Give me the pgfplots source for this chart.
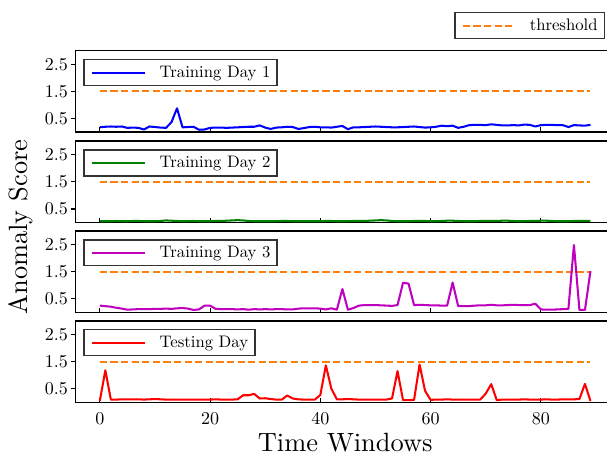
\documentclass[border=0pt]{standalone}
\usepackage{fontspec}
\setmainfont{lmroman10-regular.otf}
\usepackage{pgfplots}
\usepackage{pgfplotstable}
\pgfplotsset{compat=1.18}
\definecolor{thrcolor}{rgb}{1,0.498,0.055}
\definecolor{mpgreen}{rgb}{0,0.5,0}
\definecolor{mpmag}{rgb}{0.75,0,0.75}

\pgfplotstableread{
x b g m r
0 0.18 0.05 0.25 0.05
1 0.20 0.05 0.23 1.18
2 0.21 0.05 0.21 0.10
3 0.20 0.06 0.17 0.10
4 0.21 0.05 0.14 0.11
5 0.16 0.05 0.10 0.11
6 0.17 0.06 0.11 0.11
7 0.16 0.06 0.12 0.11
8 0.10 0.05 0.12 0.10
9 0.21 0.05 0.12 0.11
10 0.19 0.05 0.13 0.12
11 0.17 0.06 0.13 0.11
12 0.16 0.08 0.14 0.10
13 0.37 0.07 0.13 0.10
14 0.88 0.06 0.15 0.10
15 0.18 0.05 0.16 0.10
16 0.19 0.05 0.14 0.10
17 0.20 0.06 0.09 0.10
18 0.09 0.05 0.11 0.10
19 0.10 0.05 0.25 0.10
20 0.16 0.05 0.25 0.10
21 0.17 0.06 0.13 0.11
22 0.17 0.06 0.12 0.10
23 0.16 0.07 0.12 0.10
24 0.17 0.08 0.12 0.10
25 0.18 0.09 0.11 0.11
26 0.19 0.08 0.12 0.26
27 0.20 0.06 0.10 0.26
28 0.20 0.05 0.12 0.31
29 0.25 0.05 0.11 0.14
30 0.17 0.05 0.12 0.15
31 0.12 0.05 0.11 0.12
32 0.17 0.05 0.12 0.10
33 0.18 0.06 0.12 0.10
34 0.20 0.06 0.11 0.25
35 0.19 0.05 0.11 0.14
36 0.12 0.05 0.14 0.11
37 0.15 0.05 0.15 0.10
38 0.19 0.05 0.15 0.10
39 0.20 0.05 0.15 0.10
40 0.18 0.05 0.14 0.27
41 0.18 0.06 0.11 1.36
42 0.17 0.06 0.15 0.50
43 0.20 0.05 0.10 0.11
44 0.23 0.05 0.86 0.11
45 0.11 0.05 0.10 0.12
46 0.18 0.06 0.16 0.11
47 0.18 0.06 0.25 0.10
48 0.19 0.06 0.27 0.10
49 0.20 0.07 0.27 0.10
50 0.21 0.08 0.27 0.10
51 0.20 0.09 0.26 0.10
52 0.19 0.08 0.25 0.10
53 0.18 0.06 0.24 0.14
54 0.18 0.05 0.27 1.15
55 0.19 0.05 1.09 0.08
56 0.20 0.05 1.06 0.08
57 0.21 0.06 0.27 0.09
58 0.19 0.06 0.28 1.39
59 0.17 0.06 0.27 0.42
60 0.18 0.05 0.26 0.09
61 0.20 0.05 0.26 0.10
62 0.24 0.06 0.25 0.10
63 0.22 0.07 0.25 0.11
64 0.24 0.07 1.10 0.10
65 0.16 0.06 0.23 0.10
66 0.20 0.05 0.23 0.10
67 0.26 0.05 0.23 0.10
68 0.27 0.05 0.25 0.10
69 0.27 0.06 0.26 0.10
70 0.26 0.06 0.26 0.32
71 0.29 0.06 0.28 0.67
72 0.27 0.06 0.26 0.08
73 0.25 0.07 0.26 0.10
74 0.25 0.07 0.27 0.10
75 0.26 0.06 0.28 0.10
76 0.25 0.05 0.27 0.10
77 0.28 0.05 0.27 0.11
78 0.27 0.06 0.27 0.10
79 0.21 0.06 0.32 0.10
80 0.26 0.07 0.11 0.10
81 0.27 0.07 0.10 0.11
82 0.27 0.06 0.10 0.10
83 0.26 0.05 0.11 0.10
84 0.26 0.05 0.12 0.11
85 0.19 0.05 0.13 0.11
86 0.26 0.06 2.48 0.11
87 0.25 0.06 0.09 0.12
88 0.24 0.06 0.09 0.68
89 0.27 0.06 1.52 0.05
}\datatable

\pgfplotstableread{
x t
0 1.5
89 1.5
}\thrtable

\pgfplotsset{
  panel/.style={
    scale only axis, width=531.7pt, height=81.5pt,
    anchor=south west,
    xmin=-4.45, xmax=92.0, ymin=0, ymax=3,
    separate axis lines,
    axis x line*=box, axis y line*=left,
    xtick={0,20,40,60,80}, ytick={0.5,1.5,2.5}, yticklabels={0.5,1.5,2.5},
    tick pos=left,
    xtick align=inside, ytick align=outside,
    major tick length=4.8pt,
    every tick/.style={black, line width=1.1pt},
    axis line style={line width=1.6pt, -},
    tick label style={font=\fontsize{18}{21}\selectfont},
    /pgf/number format/assume math mode=true,
    yticklabel style={inner sep=0pt, xshift=-2.5pt},
    xticklabel style={inner sep=0pt, yshift=-10pt},
    legend style={draw=black!80, line width=1.3pt, fill=white,
      font=\fontsize{16.7}{20}\selectfont, inner xsep=6.7pt, inner ysep=6.5pt,
      column sep=14pt, nodes={inner sep=0pt}, cells={anchor=west}},
    legend image code/.code={\draw[##1, solid] (0pt,0pt) -- (53pt,0pt);},
  },
  panellegend/.style={legend style={at={(axis description cs:0,1)}, anchor=north west,
      xshift=8pt, yshift=-8.3pt}},
  ser/.style={line width=2.05pt, line join=round},
  thrline/.style={color=thrcolor, line width=2.05pt, dash pattern=on 7.2pt off 3.4pt},
  thrlegend/.style={legend image code/.code={\draw[##1] (0pt,0pt) -- (52pt,0pt);}},
}

\begin{document}
\begin{tikzpicture}
\useasboundingbox (0pt,0pt) rectangle (607pt,456pt);

\begin{axis}[panel, panellegend, at={(75.3pt,323.8pt)}, xticklabels={}]
\addplot[thrline, forget plot] table[x=x, y=t] {\thrtable};
\addplot[ser, blue] table[x=x, y=b] {\datatable};
\addlegendentry{Training Day 1}
\end{axis}

\begin{axis}[panel, panellegend, at={(75.3pt,233.4pt)}, xticklabels={}]
\addplot[thrline, forget plot] table[x=x, y=t] {\thrtable};
\addplot[ser, mpgreen] table[x=x, y=g] {\datatable};
\addlegendentry{Training Day 2}
\end{axis}

\begin{axis}[panel, panellegend, at={(75.3pt,143.6pt)}, xticklabels={}]
\addplot[thrline, forget plot] table[x=x, y=t] {\thrtable};
\addplot[ser, mpmag] table[x=x, y=m] {\datatable};
\addlegendentry{Training Day 3}
\end{axis}

\begin{axis}[panel, panellegend, at={(75.3pt,53.7pt)},
  xlabel={Time Windows},
  xlabel style={at={(axis description cs:0.5076,0)}, anchor=north, inner sep=0pt,
    yshift=-30.7pt, font=\fontsize{26.4}{30}\selectfont}]
\addplot[thrline, forget plot] table[x=x, y=t] {\thrtable};
\addplot[ser, red] table[x=x, y=r] {\datatable};
\addlegendentry{Testing Day}
\end{axis}

% threshold legend
\begin{axis}[panel, at={(75.3pt,323.8pt)}, hide axis, thrlegend,
  legend style={at={(axis description cs:0.9962,1.475)}, anchor=north east}]
\addlegendimage{thrline}
\addlegendentry{threshold}
\end{axis}

\node[rotate=90, anchor=north, inner sep=0pt, font=\fontsize{26.4}{30}\selectfont] at (8.3pt,229pt) {Anomaly Score};
\end{tikzpicture}
\end{document}
